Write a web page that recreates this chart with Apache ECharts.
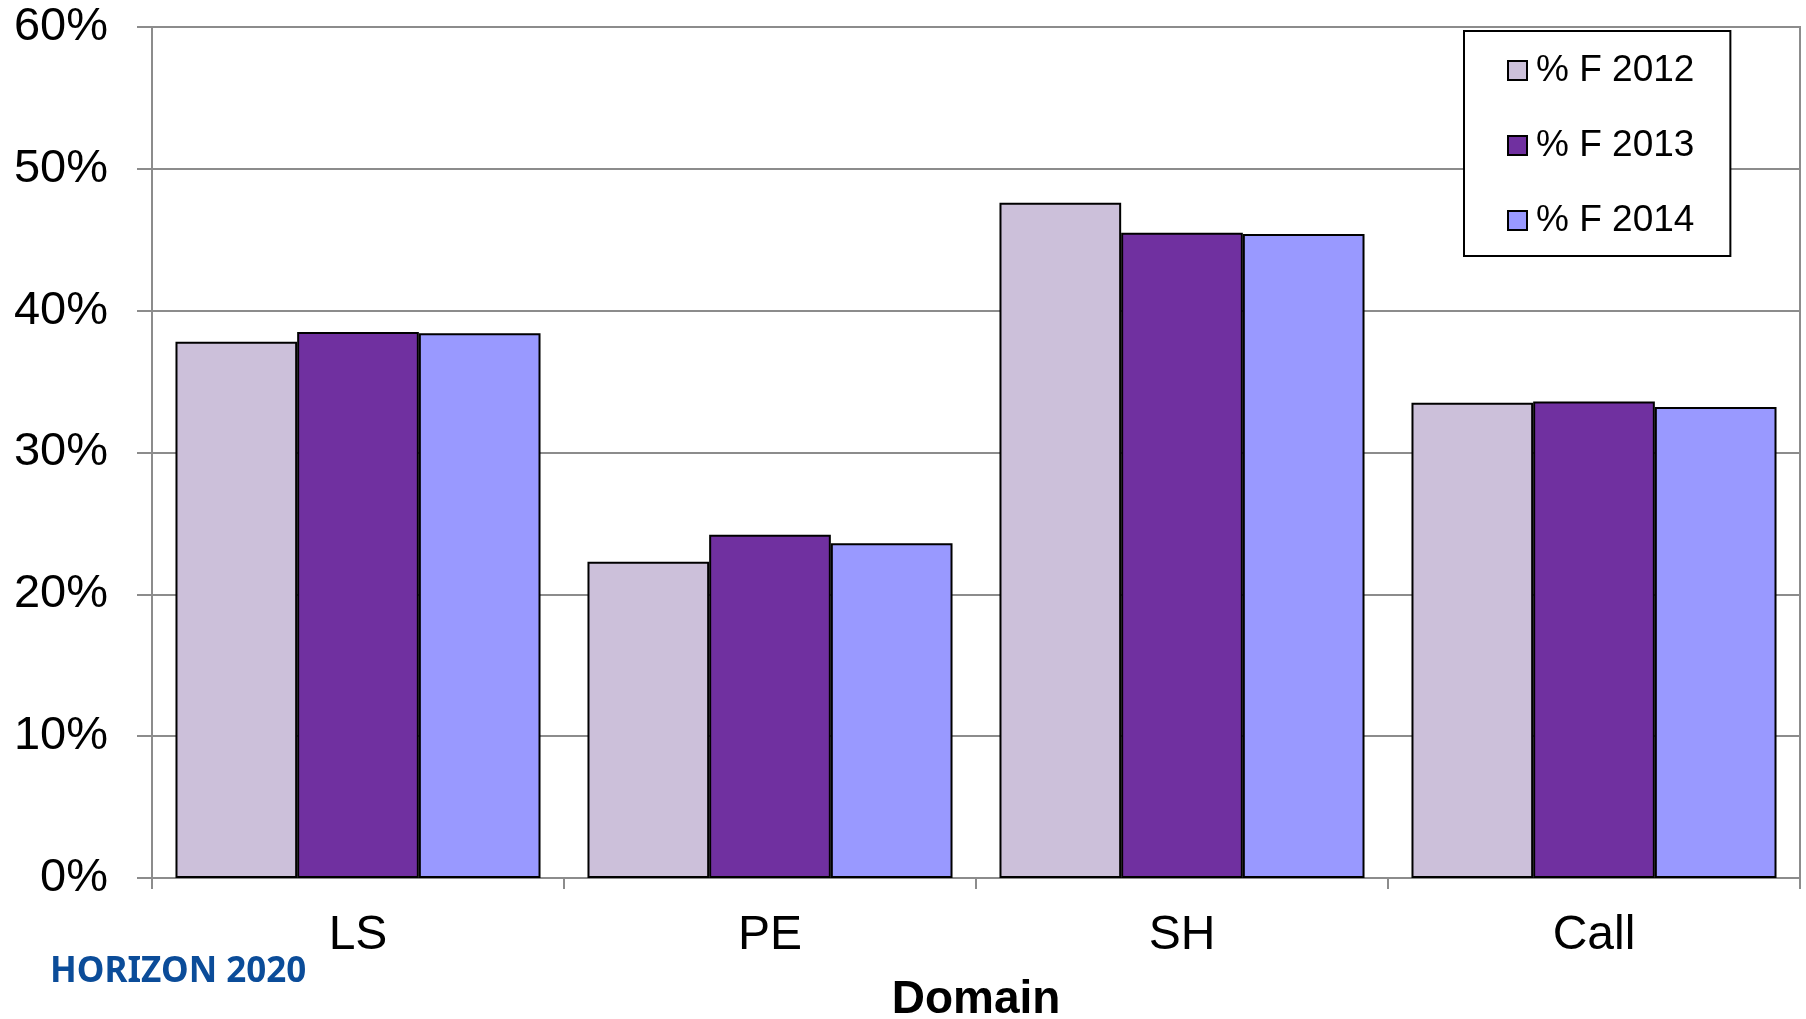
<!DOCTYPE html>
<html>
<head>
<meta charset="utf-8">
<script src="https://cdn.jsdelivr.net/npm/echarts@6/dist/echarts.min.js"></script>
<style>
html,body{margin:0;padding:0;background:#fff;}
#chart{width:1806px;height:1019px;}
</style>
</head>
<body>
<div id="chart"></div>
<script>
const categories = ['LS', 'PE', 'SH', 'Call'];
const seriesNames = ['% F 2012', '% F 2013', '% F 2014'];
const f2012 = [37.8, 22.3, 47.6, 33.5];
const f2013 = [38.5, 24.2, 45.5, 33.6];
const f2014 = [38.4, 23.6, 45.4, 33.2];
const yTicks = [0, 10, 20, 30, 40, 50, 60];
const colors = ['#CCC0DA', '#7030A0', '#9999FF'];

const FONT = '"Liberation Sans", Arial, sans-serif';
const chart = echarts.init(document.getElementById('chart'), null, {renderer: 'canvas'});
const values = [f2012, f2013, f2014];

const option = {
  animation: false,
  backgroundColor: '#fff',
  grid: {
    left: 152, right: 6, top: 27, bottom: 141,
    outerBoundsMode: 'none',
    containLabel: false,
    show: true, borderColor: '#8c8c8c', borderWidth: 2, backgroundColor: 'transparent'
  },
  legend: {
    orient: 'vertical',
    left: 1464, top: 31,
    padding: [21, 36, 17, 43],
    borderColor: '#000', borderWidth: 2,
    backgroundColor: '#fff',
    itemWidth: 19, itemHeight: 19, itemGap: 38,
    icon: 'rect',
    textStyle: {fontFamily: FONT, fontSize: 37, color: '#000', padding: [0, 0, 0, 4]},
    data: seriesNames
  },
  xAxis: {
    type: 'category',
    data: categories,
    name: 'Domain',
    nameLocation: 'middle',
    nameGap: 99,
    nameTextStyle: {fontFamily: FONT, fontSize: 46, fontWeight: 'bold', color: '#000'},
    axisLine: {show: true, lineStyle: {color: '#8c8c8c', width: 2}},
    axisTick: {show: true, length: 11, lineStyle: {color: '#8c8c8c', width: 2}},
    axisLabel: {fontFamily: FONT, fontSize: 48, color: '#000', margin: 34},
    splitLine: {show: false}
  },
  yAxis: {
    type: 'value',
    min: yTicks[0], max: yTicks[yTicks.length - 1], interval: 10,
    axisLine: {show: true, lineStyle: {color: '#8c8c8c', width: 2}},
    axisTick: {show: true, length: 15, lineStyle: {color: '#8c8c8c', width: 2}},
    axisLabel: {fontFamily: FONT, fontSize: 47, color: '#000', margin: 44, padding: [3, 0, 0, 0], formatter: '{value}%'},
    splitLine: {show: true, lineStyle: {color: '#8c8c8c', width: 2}}
  },
  series: seriesNames.map((name, i) => ({
    name: name,
    type: 'bar',
    data: values[i],
    barGap: '0%',
    barCategoryGap: '11.4%',
    itemStyle: {color: colors[i], borderColor: '#000', borderWidth: 2}
  })),
  graphic: [{
    type: 'text',
    left: 50,
    top: 955,
    style: {
      text: 'HORIZON 2020',
      fontFamily: '"Noto Sans", sans-serif',
      fontWeight: 'bold',
      fontSize: 35,
      fill: '#0b4c99'
    }
  }]
};
chart.setOption(option);
</script>
</body>
</html>
